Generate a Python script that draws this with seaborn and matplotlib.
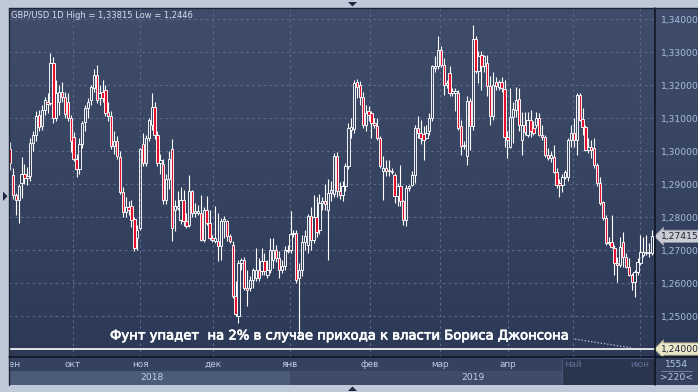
import numpy as np
import matplotlib
matplotlib.use("Agg")
import matplotlib.pyplot as plt
import seaborn as sns
from matplotlib.colors import LinearSegmentedColormap
from matplotlib.patches import Rectangle, Polygon
from matplotlib.lines import Line2D
import matplotlib.transforms as mtransforms
import matplotlib.patheffects as pe

# ---------------- data (GBP/USD daily candles) ----------------
opens = [
    # Sep
    1.3006,1.2927,1.2867,1.2852,1.2903,1.2930,1.2919,1.2925,1.3024,1.3050,1.3110,1.3075,1.3125,1.3148,1.3145,1.3267,1.3100,1.3150,1.3178,1.3164,1.3150,
    # Oct
    1.3100,1.3042,1.2976,1.2945,1.3020,1.3088,1.3130,1.3155,1.3191,1.3230,1.3160,1.3180,1.3185,1.3118,1.3105,1.3015,1.3030,1.2982,1.2876,1.2815,1.2830,1.2833,1.2794,1.2735,
    # early Nov
    1.2767,1.3020,1.2964,1.3039,1.3080,1.3133,1.3050,1.2964,
    # Nov-Dec
    1.2960,1.2853,1.2915,1.3006,1.2822,1.2827,1.2790,1.2853,1.2787,1.2777,1.2878,1.2812,1.2812,1.2812,1.2731,1.2822,1.2782,1.2736,1.2726,1.2726,1.2711,1.2787,1.2787,1.2741,1.2716,1.2560,1.2499,1.2661,1.2671,1.2585,1.2585,1.2610,1.2615,1.2640,1.2635,1.2666,1.2625,1.2640,1.2671,1.2701,1.2676,1.2640,1.2651,1.2701,1.2701,1.2747,
    # Jan
    1.2752,1.2615,1.2640,1.2725,1.2716,1.2802,1.2730,1.2800,1.2760,1.2843,1.2848,1.2822,1.2873,1.2870,1.2985,1.2878,1.2868,1.2893,1.2954,1.3064,1.3068,1.3209,1.3200,1.3164,1.3079,1.3120,
    # Feb-Mar
    1.3115,1.3085,1.3075,1.3039,1.2938,1.2949,1.2943,1.2940,1.2928,1.2863,1.2893,1.2848,1.2792,1.2888,1.2898,1.2928,1.3070,1.3055,1.3053,1.3040,1.3060,1.3100,1.3252,1.3257,1.3307,1.3262,1.3201,1.3236,1.3176,1.3176,1.3176,1.3075,1.3014,1.2984,1.3151,1.3075,1.3339,1.3241,1.3292,1.3257,1.3267,1.3196,
    # Mar-Jun
    1.3105,1.3208,1.3195,1.3210,1.3187,1.3043,1.3013,1.3104,1.3124,1.3157,1.3033,1.3079,1.3049,1.3094,1.3069,1.3079,1.3099,1.3049,1.3043,1.2988,1.2978,1.2983,1.2937,1.2902,1.2897,1.2922,1.2922,1.3033,1.3054,1.3033,1.3170,1.3096,1.3074,1.3003,1.3013,1.3008,1.2958,1.2902,1.2846,1.2796,1.2720,1.2725,1.2705,1.2660,1.2655,1.2725,1.2680,1.2650,1.2624,1.2604,1.2634,1.2660,1.2685,1.2695,1.2690,1.2690,
]
highs = [
    1.3028,1.2950,1.2872,1.2900,1.2982,1.2960,1.2952,1.3039,1.3060,1.3120,1.3125,1.3140,1.3165,1.3176,1.3297,1.3285,1.3215,1.3200,1.3210,1.3180,1.3175,
    1.3110,1.3058,1.2990,1.3040,1.3090,1.3140,1.3160,1.3200,1.3250,1.3261,1.3200,1.3215,1.3200,1.3150,1.3120,1.3060,1.3045,1.3000,1.2890,1.2860,1.2850,1.2852,1.2800,1.2775,
    1.3010,1.3055,1.3050,1.3100,1.3176,1.3150,1.3060,1.2990,
    1.2975,1.2930,1.3000,1.3036,1.2853,1.2878,1.2890,1.2883,1.2812,1.2928,1.2883,1.2842,1.2835,1.2868,1.2830,1.2863,1.2822,1.2745,1.2832,1.2812,1.2797,1.2802,1.2792,1.2750,1.2726,1.2605,1.2671,1.2676,1.2680,1.2640,1.2620,1.2645,1.2706,1.2676,1.2706,1.2691,1.2671,1.2736,1.2736,1.2716,1.2696,1.2671,1.2711,1.2716,1.2817,1.2762,
    1.2760,1.2660,1.2745,1.2760,1.2810,1.2830,1.2866,1.2860,1.2870,1.2860,1.2900,1.2914,1.2910,1.2995,1.2998,1.2905,1.2910,1.2965,1.3085,1.3100,1.3215,1.3218,1.3212,1.3180,1.3140,1.3135,
    1.3120,1.3100,1.3100,1.3045,1.2984,1.2974,1.2974,1.2950,1.2933,1.2903,1.2959,1.2853,1.2898,1.2898,1.2938,1.3080,1.3105,1.3095,1.3075,1.3080,1.3115,1.3262,1.3287,1.3349,1.3317,1.3282,1.3215,1.3257,1.3190,1.3190,1.3186,1.3095,1.3030,1.3166,1.3161,1.3383,1.3349,1.3302,1.3302,1.3290,1.3292,1.3226,
    1.3240,1.3225,1.3215,1.3225,1.3215,1.3060,1.3190,1.3150,1.3195,1.3190,1.3119,1.3119,1.3119,1.3124,1.3090,1.3119,1.3115,1.3079,1.3050,1.3008,1.3000,1.3018,1.2950,1.2915,1.2930,1.2942,1.3040,1.3079,1.3099,1.3176,1.3176,1.3129,1.3080,1.3038,1.3033,1.3038,1.2965,1.2922,1.2850,1.2806,1.2740,1.2806,1.2715,1.2680,1.2740,1.2755,1.2690,1.2675,1.2630,1.2640,1.2675,1.2745,1.2740,1.2745,1.2720,1.2762,
]
lows = [
    1.2942,1.2855,1.2806,1.2782,1.2858,1.2900,1.2897,1.2909,1.3000,1.3030,1.3060,1.3065,1.3110,1.3115,1.3140,1.3085,1.3090,1.3110,1.3150,1.3100,1.3090,
    1.2997,1.2970,1.2921,1.2930,1.3010,1.3060,1.3100,1.3140,1.3180,1.3145,1.3140,1.3150,1.3105,1.3090,1.3005,1.2990,1.2975,1.2870,1.2800,1.2800,1.2805,1.2770,1.2697,1.2700,
    1.2760,1.2955,1.2955,1.3030,1.3065,1.3035,1.2955,1.2930,
    1.2840,1.2840,1.2885,1.2726,1.2757,1.2822,1.2780,1.2772,1.2767,1.2770,1.2800,1.2800,1.2805,1.2726,1.2725,1.2775,1.2730,1.2725,1.2720,1.2666,1.2671,1.2735,1.2726,1.2720,1.2555,1.2499,1.2479,1.2640,1.2580,1.2529,1.2575,1.2585,1.2605,1.2605,1.2625,1.2625,1.2615,1.2630,1.2645,1.2665,1.2615,1.2630,1.2640,1.2690,1.2690,1.2740,
    1.2600,1.2440,1.2620,1.2700,1.2690,1.2700,1.2720,1.2740,1.2750,1.2820,1.2820,1.2670,1.2850,1.2860,1.2860,1.2855,1.2850,1.2880,1.2945,1.3040,1.3055,1.3160,1.3140,1.3070,1.3060,1.3090,
    1.3039,1.3070,1.3034,1.2950,1.2853,1.2923,1.2923,1.2930,1.2842,1.2832,1.2832,1.2775,1.2773,1.2880,1.2893,1.2903,1.3039,1.3020,1.2972,1.3035,1.3050,1.3090,1.3240,1.3250,1.3255,1.3171,1.3190,1.3166,1.3166,1.3120,1.3065,1.2989,1.3005,1.2959,1.3004,1.3065,1.3236,1.3206,1.3186,1.3240,1.3166,1.3080,
    1.3095,1.3185,1.3185,1.3180,1.3013,1.2978,1.3008,1.3025,1.3104,1.3060,1.2988,1.3049,1.3043,1.3043,1.3049,1.3069,1.3045,1.3033,1.2983,1.2973,1.2968,1.2932,1.2887,1.2862,1.2877,1.2915,1.2910,1.3013,1.3013,1.2988,1.3090,1.3049,1.3000,1.2993,1.2978,1.2950,1.2895,1.2835,1.2790,1.2715,1.2715,1.2705,1.2624,1.2604,1.2650,1.2650,1.2645,1.2620,1.2579,1.2559,1.2625,1.2655,1.2680,1.2685,1.2680,1.2685,
]
closes = [
    1.2964,1.2867,1.2852,1.2894,1.2930,1.2918,1.2925,1.3024,1.3050,1.3105,1.3072,1.3125,1.3155,1.3142,1.3267,1.3100,1.3176,1.3180,1.3164,1.3112,1.3100,
    1.3030,1.2976,1.2945,1.3020,1.3085,1.3130,1.3150,1.3194,1.3230,1.3155,1.3175,1.3160,1.3115,1.3105,1.3015,1.3030,1.2985,1.2876,1.2815,1.2830,1.2820,1.2791,1.2706,1.2760,
    1.3006,1.2964,1.3039,1.3094,1.3133,1.3050,1.2964,1.2972,
    1.2853,1.2915,1.2975,1.2767,1.2832,1.2832,1.2853,1.2787,1.2772,1.2878,1.2812,1.2817,1.2817,1.2731,1.2822,1.2782,1.2736,1.2731,1.2736,1.2711,1.2787,1.2795,1.2741,1.2726,1.2560,1.2505,1.2661,1.2671,1.2585,1.2580,1.2610,1.2640,1.2640,1.2615,1.2666,1.2635,1.2640,1.2701,1.2701,1.2676,1.2640,1.2651,1.2701,1.2696,1.2747,1.2752,
    1.2610,1.2640,1.2725,1.2741,1.2802,1.2730,1.2800,1.2755,1.2843,1.2848,1.2838,1.2873,1.2883,1.2985,1.2878,1.2868,1.2893,1.2954,1.3070,1.3073,1.3205,1.3194,1.3164,1.3079,1.3115,1.3110,
    1.3085,1.3080,1.3039,1.2954,1.2949,1.2940,1.2940,1.2935,1.2863,1.2893,1.2848,1.2792,1.2888,1.2893,1.2928,1.3070,1.3055,1.3039,1.3034,1.3055,1.3100,1.3257,1.3257,1.3307,1.3262,1.3201,1.3206,1.3176,1.3181,1.3181,1.3070,1.3014,1.3019,1.3151,1.3075,1.3339,1.3241,1.3287,1.3257,1.3287,1.3196,1.3105,
    1.3200,1.3197,1.3210,1.3190,1.3043,1.3033,1.3104,1.3126,1.3155,1.3079,1.3079,1.3059,1.3094,1.3060,1.3054,1.3099,1.3049,1.3043,1.2988,1.2978,1.2988,1.2937,1.2897,1.2897,1.2922,1.2937,1.3033,1.3054,1.3033,1.3170,1.3094,1.3074,1.3003,1.3013,1.3003,1.2958,1.2902,1.2841,1.2796,1.2720,1.2725,1.2710,1.2660,1.2655,1.2710,1.2680,1.2650,1.2624,1.2604,1.2634,1.2665,1.2695,1.2695,1.2690,1.2695,1.27415,
]

month_labels = ["сен", "окт", "ноя", "дек", "янв", "фев", "мар", "апр", "май", "июн"]
month_pos = [1.0, 21.8, 45.0, 70.2, 96.8, 124.5, 148.7, 172.2, 194.7, 217.8]   # in candle units
year_labels = ["2018", "2019"]
year_pos = [49.1, 160.1]
price_ticks = [1.25, 1.26, 1.27, 1.28, 1.29, 1.30, 1.31, 1.32, 1.33, 1.34]
level = 1.24
title = "GBP/USD 1D High = 1,33815 Low = 1,2446"
note = "Фунт упадет  на 2% в случае прихода к власти Бориса Джонсона"
note_line_x = [195.4, 215.4]
note_line_y = [1.2430, 1.2403]

# ---------------- figure ----------------
sns.set_theme(style="dark")
plt.rcParams['font.family'] = ['DejaVu Sans']

W, H = 698, 392
fig = plt.figure(figsize=(W / 100, H / 100), dpi=100)
fig.patch.set_facecolor('#bfcad9')


def fx(px):
    return px / W


def fy(py):
    return 1 - py / H


n = min(len(opens), len(highs), len(lows), len(closes))
o = np.array(opens[:n]); h = np.array(highs[:n]); l = np.array(lows[:n]); c = np.array(closes[:n])
h = np.maximum(h, np.maximum(o, c)); l = np.minimum(l, np.minimum(o, c))
idx = np.arange(n)
step = (652 - 10) / (n - 1)

bg_cmap = LinearSegmentedColormap.from_list('bg', ['#2d3a57', '#3f4d6b'])
grad = np.linspace(0, 1, 256).reshape(-1, 1)

# right price panel background
axr = fig.add_axes([fx(655), fy(357), fx(698) - fx(655), fy(8) - fy(357)])
axr.imshow(grad, cmap=bg_cmap, extent=[0, 1, 0, 1], aspect='auto', origin='lower')
axr.set_axis_off()

# main axes
ax = fig.add_axes([fx(9), fy(357), fx(655) - fx(9), fy(8) - fy(357)])
ytop = 1.34 + 11 / 3300
ybot = 1.34 - (357 - 19) / 3300
x_left = (9 - 10) / step
x_right = (655 - 10) / step
ax.imshow(grad, cmap=bg_cmap, extent=[x_left, x_right, ybot, ytop], aspect='auto', origin='lower', zorder=0)
ax.set_xlim(x_left, x_right)
ax.set_ylim(ybot, ytop)
for s in ax.spines.values():
    s.set_visible(False)

# grid
ax.set_yticks(price_ticks)
ax.set_yticklabels([f"{v:.5f}".replace('.', ',') for v in price_ticks], color='#a9bedf', fontsize=6.6)
ax.yaxis.tick_right()
ax.tick_params(axis='y', length=0, pad=4)
ax.set_xticks(month_pos[1:])
ax.set_xticklabels([])
ax.tick_params(axis='x', length=0)
ax.grid(True, color='#5b6b8d', linestyle=(0, (2.2, 3)), linewidth=0.8, zorder=1)
ax.set_axisbelow(True)

# candles
up = c >= o
body_lo = np.minimum(o, c)
body_hi = np.maximum(o, c)
hgt = np.maximum(body_hi - body_lo, 0.00006)
ax.vlines(idx, l, body_lo, color='white', lw=0.8, zorder=3)
ax.vlines(idx, body_hi, h, color='white', lw=0.8, zorder=3)
ax.bar(idx[~up], hgt[~up], bottom=body_lo[~up], width=0.8, color='#e6122d',
       edgecolor='white', linewidth=0.65, zorder=4)
ax.bar(idx[up], hgt[up], bottom=body_lo[up], width=0.8, color='none',
       edgecolor='white', linewidth=0.65, zorder=4)

# level line and note
ax.axhline(level, color='white', lw=1.2, zorder=5)
ax.plot(note_line_x, note_line_y, color='#c5ccd9', lw=0.9, linestyle=(0, (1, 1.6)), zorder=5)
fig.text(fx(110), fy(339.5), note, ha='left', va='baseline', color='white', fontsize=9.5,
         path_effects=[pe.withStroke(linewidth=0.5, foreground='white')])
fig.text(fx(11), fy(15), title, ha='left', va='center', color='#d6dded', fontsize=6.0)

# price boxes on the right
tr = mtransforms.blended_transform_factory(ax.transAxes, ax.transData)
ax.text(1.0 + 6 / 646, c[-1], f"{c[-1]:.5f}".replace('.', ','), transform=tr, ha='left', va='center',
        fontsize=6.6, color='#1b2233', zorder=10, clip_on=False,
        bbox=dict(boxstyle='larrow,pad=0.18', fc='#c9cdd3', ec='#8f97a3', lw=0.6))
ax.text(1.0 + 6 / 646, level, f"{level:.5f}".replace('.', ','), transform=tr, ha='left', va='center',
        fontsize=6.6, color='#1b2233', zorder=10, clip_on=False,
        bbox=dict(boxstyle='larrow,pad=0.18', fc='#e9e7c8', ec='#a5a27f', lw=0.6))

# date band
axd = fig.add_axes([fx(9), fy(385), fx(655) - fx(9), fy(357) - fy(385)], sharex=ax)
axd.set_ylim(0, 28)
axd.set_facecolor('#34425f')
for s in axd.spines.values():
    s.set_visible(False)
axd.tick_params(left=False, bottom=False, labelleft=False, labelbottom=False)
axd.grid(False)
axd.add_patch(Rectangle((x_left, 0.5), (290 - 9) / step, 13.5, facecolor='#4b5b7a', edgecolor='none'))
axd.add_patch(Rectangle(((290 - 10) / step, 0.5), (562 - 290) / step, 13.5, facecolor='#3e4c6a', edgecolor='none'))
axd.add_patch(Rectangle(((562 - 10) / step, 0.5), (655 - 562) / step, 27, facecolor='#29344d',
                        edgecolor='#46567a', lw=0.8))
for lab, pos in zip(month_labels, month_pos):
    dim = lab in ("май", "июн")
    axd.text(pos, 20.5, lab, ha='center', va='center', fontsize=6.4,
             color='#5e7094' if dim else '#bccbe4', clip_on=True)
for lab, pos in zip(year_labels, year_pos):
    axd.text(pos, 7.5, lab, ha='center', va='center', fontsize=6.6, color='#c3cfe3', clip_on=True)

# bottom-right info box
axb = fig.add_axes([fx(655), fy(385), fx(698) - fx(655), fy(357) - fy(385)])
axb.set_facecolor('#33415e')
axb.set_xlim(0, 1); axb.set_ylim(0, 1)
axb.tick_params(left=False, bottom=False, labelleft=False, labelbottom=False)
for s in axb.spines.values():
    s.set_visible(False)
axb.text(0.5, 0.72, "1554", ha='center', va='center', fontsize=6.6, color='#b4c6e3')
axb.plot([0.15, 0.85], [0.5, 0.5], color='#7c8cab', lw=0.6)
axb.text(0.5, 0.26, ">220<", ha='center', va='center', fontsize=6.6, color='#b4c6e3')

# frame lines and markers
fig.add_artist(Line2D([fx(8.5), fx(698)], [fy(357), fy(357)], color='#0c1220', lw=1.1))
fig.add_artist(Line2D([fx(655), fx(655)], [fy(8), fy(385)], color='#0c1220', lw=1.1))
fig.add_artist(Line2D([fx(8.5), fx(8.5)], [fy(7.5), fy(385)], color='#1c2436', lw=1.0))
fig.add_artist(Line2D([fx(8.5), fx(698)], [fy(7.5), fy(7.5)], color='#1c2436', lw=1.0))
fig.add_artist(Polygon([[fx(348), fy(2)], [fx(357), fy(2)], [fx(352.5), fy(6.5)]], closed=True,
                       transform=fig.transFigure, facecolor='#1d2840', edgecolor='none'))
fig.add_artist(Polygon([[fx(348), fy(391)], [fx(357), fy(391)], [fx(352.5), fy(386.5)]], closed=True,
                       transform=fig.transFigure, facecolor='#1d2840', edgecolor='none'))
fig.add_artist(Polygon([[fx(3), fy(191.5)], [fx(3), fy(201)], [fx(7.5), fy(196.2)]], closed=True,
                       transform=fig.transFigure, facecolor='#1d2840', edgecolor='none'))

fig.savefig("out.png", dpi=100, facecolor=fig.get_facecolor())
